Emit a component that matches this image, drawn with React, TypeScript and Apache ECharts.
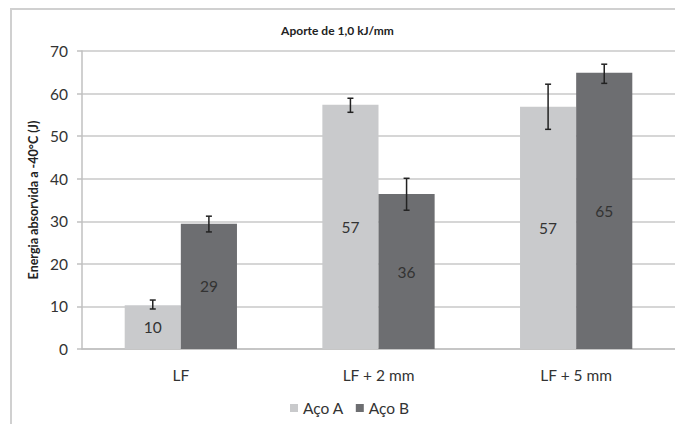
import React, { useEffect, useRef } from "react";
import * as echarts from "echarts";

const categories = ["LF", "LF + 2 mm", "LF + 5 mm"];
const seriesNames = ["Aço A", "Aço B"];
const valuesA = [10.3, 57.4, 56.9];
const valuesB = [29.4, 36.4, 64.9];
const errLowA = [9.4, 55.6, 51.6];
const errHighA = [11.5, 58.9, 62.2];
const errLowB = [27.5, 32.6, 62.4];
const errHighB = [31.2, 40.1, 66.9];
const yTicks = [0, 10, 20, 30, 40, 50, 60, 70];
const titleText = "Aporte de 1,0 kJ/mm";
const yAxisTitle = "Energia absorvida a -40°C (J)";

const FONT = "Lato, 'Open Sans', sans-serif";
const COLOR_A = "#c9cacc";
const COLOR_B = "#6d6e71";
const BAR_W = 0.284;

function errorSeries(low: number[], high: number[], side: number) {
  return {
    type: "custom",
    silent: true,
    z: 10,
    data: low.map((l, i) => [i, l, high[i]]),
    renderItem: (params: any, api: any) => {
      const idx = api.value(0);
      const lo = api.coord([idx, api.value(1)]);
      const hi = api.coord([idx, api.value(2)]);
      const bw = api.size([1, 0])[0] * BAR_W;
      const x = lo[0] + (side * bw) / 2;
      const cap = 3;
      const style = { stroke: "#222", lineWidth: 1.5 };
      return {
        type: "group",
        children: [
          { type: "line", shape: { x1: x, y1: lo[1], x2: x, y2: hi[1] }, style },
          { type: "line", shape: { x1: x - cap, y1: lo[1], x2: x + cap, y2: lo[1] }, style },
          { type: "line", shape: { x1: x - cap, y1: hi[1], x2: x + cap, y2: hi[1] }, style },
        ],
      };
    },
  };
}

export default function App() {
  const ref = useRef<HTMLDivElement>(null);
  useEffect(() => {
    const chart = echarts.init(ref.current!, null, { renderer: "svg" });
    const label = {
      show: true,
      position: "inside",
      color: "#333",
      fontSize: 15.5,
      fontFamily: FONT,
      formatter: (p: any) => String(Math.round(p.value)),
    };
    chart.setOption({
      animation: false,
      backgroundColor: "#fff",
      textStyle: { fontFamily: FONT },
      title: {
        text: titleText,
        left: "center",
        top: 19,
        textStyle: { fontSize: 12, fontWeight: "bold", color: "#222", fontFamily: FONT },
      },
      graphic: [
        {
          type: "line",
          shape: { x1: 11, y1: 9, x2: 675, y2: 9 },
          style: { stroke: "#d0d0d0", lineWidth: 2 },
          silent: true,
        },
        {
          type: "line",
          shape: { x1: 11, y1: 8, x2: 11, y2: 424 },
          style: { stroke: "#d0d0d0", lineWidth: 2 },
          silent: true,
        },
        {
          type: "text",
          x: 33,
          y: 200,
          rotation: Math.PI / 2,
          silent: true,
          style: {
            text: yAxisTitle,
            fontSize: 12.5,
            fontWeight: "bold",
            fill: "#222",
            fontFamily: FONT,
            align: "center",
            verticalAlign: "middle",
          },
        },
      ],
      legend: {
        bottom: 3,
        left: 285,
        itemWidth: 8,
        itemHeight: 8,
        itemGap: 12,
        icon: "rect",
        data: seriesNames,
        textStyle: { fontSize: 15.5, color: "#333", fontFamily: FONT },
      },
      grid: { left: 82, right: 0, top: 51, bottom: 75, containLabel: false },
      xAxis: {
        type: "category",
        data: categories,
        axisTick: { show: false },
        axisLine: { lineStyle: { color: "#c0c0c0", width: 1.5 } },
        axisLabel: { fontSize: 15.5, color: "#333", margin: 18, fontFamily: FONT },
      },
      yAxis: {
        type: "value",
        min: yTicks[0],
        max: yTicks[yTicks.length - 1],
        interval: 10,
        axisLine: { show: true, lineStyle: { color: "#c0c0c0", width: 1.5 } },
        axisTick: { show: true, length: 5, lineStyle: { color: "#c0c0c0", width: 1.5 } },
        splitLine: { lineStyle: { color: "#c8c8c8", width: 1.5 } },
        axisLabel: { fontSize: 15.5, color: "#333", margin: 14, fontFamily: FONT },
      },
      series: [
        {
          name: seriesNames[0],
          type: "bar",
          data: valuesA,
          barWidth: BAR_W * 100 + "%",
          barGap: "0%",
          itemStyle: { color: COLOR_A },
          label,
        },
        {
          name: seriesNames[1],
          type: "bar",
          data: valuesB,
          barWidth: BAR_W * 100 + "%",
          barGap: "0%",
          itemStyle: { color: COLOR_B },
          label,
        },
        errorSeries(errLowA, errHighA, -1),
        errorSeries(errLowB, errHighB, 1),
      ],
    });
    return () => chart.dispose();
  }, []);
  return (
    <div
      ref={ref}
      style={{ position: "fixed", left: 0, top: 0, width: 675, height: 424 }}
    />
  );
}
